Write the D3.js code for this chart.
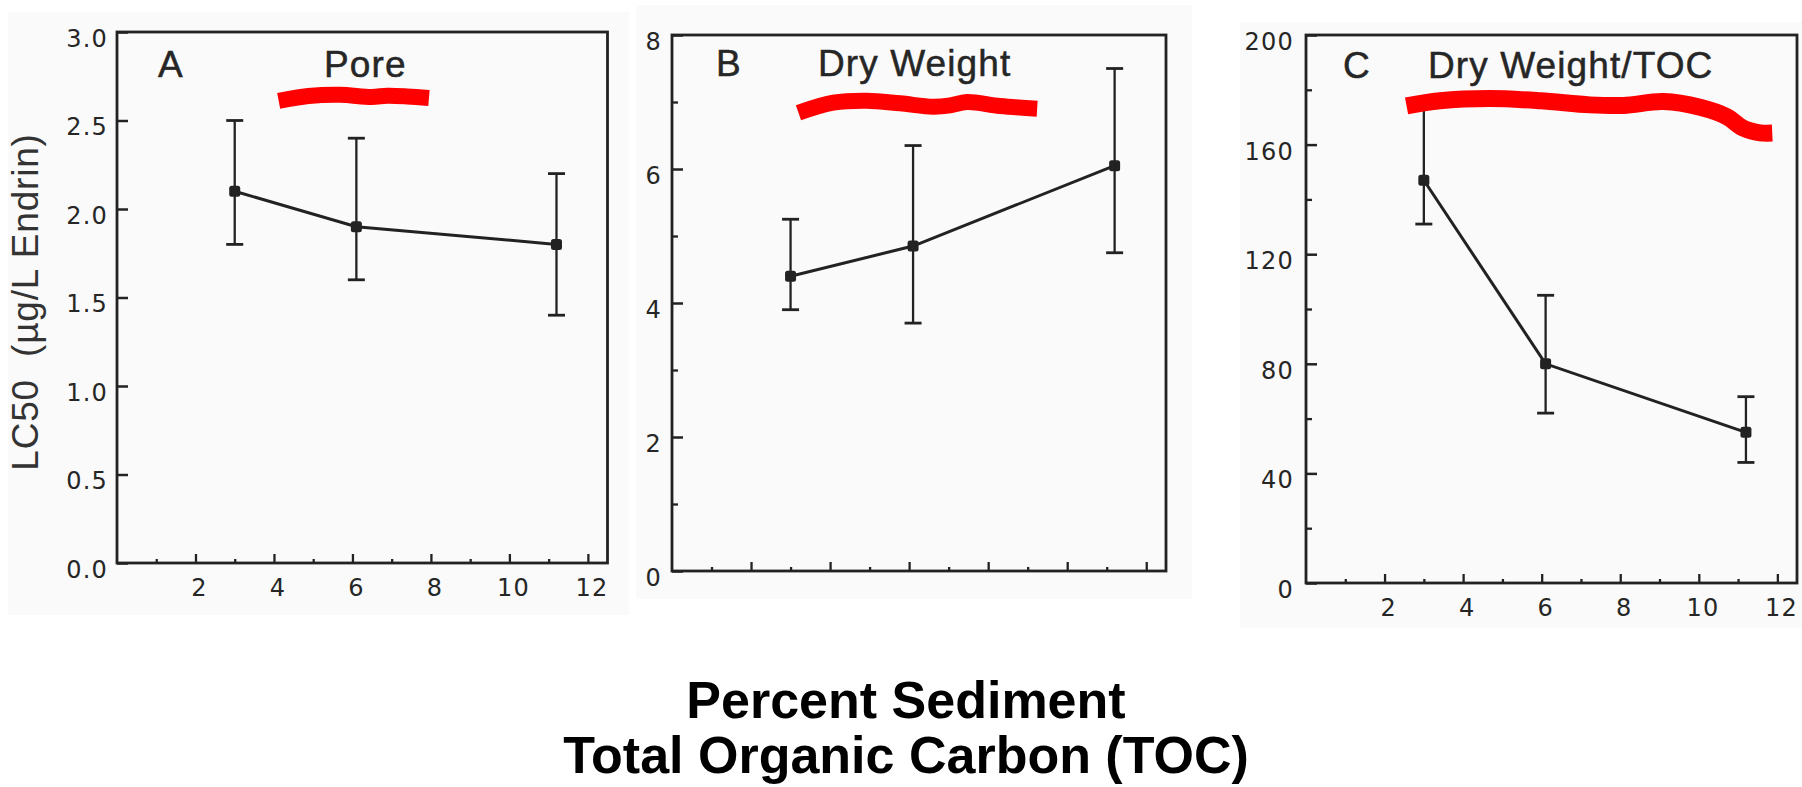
<!DOCTYPE html>
<html>
<head>
<meta charset="utf-8">
<script src="https://cdn.jsdelivr.net/npm/d3@7"></script>
<style>
  body { margin: 0; background: #ffffff; }
  svg { display: block; }
</style>
</head>
<body>
<svg id="chart" width="1802" height="787"></svg>
<script>
// ---------------- DATA ----------------
const tocPercent = [3.0, 6.1, 11.2];           // x: percent sediment TOC

const poreMean = [2.1, 1.9, 1.8];              // A: Pore (µg/L)
const poreLow  = [1.8, 1.6, 1.4];
const poreHigh = [2.5, 2.4, 2.2];

const dryMean = [4.4, 4.85, 6.05];             // B: Dry weight
const dryLow  = [3.9, 3.7, 4.75];
const dryHigh = [5.25, 6.35, 7.5];

const dwTocMean = [147, 80, 55];               // C: Dry weight / TOC
const dwTocLow  = [131, 62, 44];
const dwTocHigh = [174, 105, 68];

const xTickValues  = [2, 4, 6, 8, 10, 12];
const xMinorValues = [1, 3, 5, 7, 9, 11];

const poreTicks  = [0, 0.5, 1.0, 1.5, 2.0, 2.5, 3.0];
const poreMinor  = [];
const dryTicks   = [0, 2, 4, 6, 8];
const dryMinor   = [1, 3, 5, 7];
const dwTocTicks = [0, 40, 80, 120, 160, 200];
const dwTocMinor = [20, 60, 100, 140, 180];

const panelLetters = ["A", "B", "C"];
const panelTitles  = ["Pore", "Dry Weight", "Dry Weight/TOC"];
const yAxisTitle   = "LC50  (\u00b5g/L Endrin)";
const xAxisTitle   = ["Percent Sediment", "Total Organic Carbon (TOC)"];

// hand-drawn red highlight strokes, in each panel's data units [x, y]
const redStrokeA = [[4.12,2.611],[4.88,2.638],[5.68,2.645],[6.49,2.633],[6.89,2.640],[7.40,2.636],[7.95,2.627]];
const redStrokeB = [[3.20,6.84],[4.08,6.99],[4.92,7.02],[5.77,6.98],[6.61,6.93],[7.04,6.95],[7.46,7.00],[8.30,6.94],[9.24,6.90]];
const redStrokeC = [[2.56,174.1],[3.41,176.0],[4.68,176.8],[5.96,176.0],[7.23,174.5],[8.08,174.3],[9.10,175.7],[10.03,173.6],[10.71,170.2],[11.13,166.0],[11.56,164.3],[11.87,164.2]];

// ---------------- LAYOUT ----------------
const panels = [
  { letter: panelLetters[0], title: panelTitles[0],
    paper: [8, 12, 629, 615], frame: [117, 32, 607.5, 563],
    xDomain: [0, 12.5], yDomain: [0, 3],
    yTicks: poreTicks, yMinor: poreMinor, fmt: d3.format(".1f"),
    xLabels: true, mean: poreMean, low: poreLow, high: poreHigh, red: redStrokeA, redW: 16,
    letterX: 158, titleX: 324, baseY: 77, yPad: 9 },
  { letter: panelLetters[1], title: panelTitles[1],
    paper: [636, 5, 1192, 599], frame: [672, 35, 1166, 571],
    xDomain: [0, 12.5], yDomain: [0, 8],
    yTicks: dryTicks, yMinor: dryMinor, fmt: d3.format("d"),
    xLabels: false, mean: dryMean, low: dryLow, high: dryHigh, red: redStrokeB, redW: 16,
    letterX: 716, titleX: 818, baseY: 76, yPad: 10 },
  { letter: panelLetters[2], title: panelTitles[2],
    paper: [1240, 22, 1802, 628], frame: [1306, 35, 1797, 583],
    xDomain: [0, 12.5], yDomain: [0, 200],
    yTicks: dwTocTicks, yMinor: dwTocMinor, fmt: d3.format("d"),
    xLabels: true, mean: dwTocMean, low: dwTocLow, high: dwTocHigh, red: redStrokeC, redW: 17,
    letterX: 1343, titleX: 1428, baseY: 77.5, yPad: 12 }
];

const ink = "#222222";
const svg = d3.select("#chart");

panels.forEach(p => {
  const g = svg.append("g");
  const [fx0, fy0, fx1, fy1] = p.frame;

  // scanned paper background
  g.append("rect")
    .attr("x", p.paper[0]).attr("y", p.paper[1])
    .attr("width", p.paper[2] - p.paper[0]).attr("height", p.paper[3] - p.paper[1])
    .attr("fill", "#fafafa");

  const x = d3.scaleLinear().domain(p.xDomain).range([fx0, fx1]);
  const y = d3.scaleLinear().domain(p.yDomain).range([fy1, fy0]);

  // y axis major ticks + labels
  const ya = g.append("g").attr("transform", `translate(${fx0},0)`)
    .call(d3.axisLeft(y).tickValues(p.yTicks).tickSizeInner(-11).tickSizeOuter(0)
      .tickPadding(p.yPad).tickFormat(p.fmt));
  ya.select(".domain").remove();
  ya.selectAll(".tick line").attr("stroke", ink).attr("stroke-width", 2.5);
  ya.selectAll(".tick text")
    .attr("dy", "0.6em")
    .attr("fill", "#262626")
    .style("font-family", "'DejaVu Sans', 'Liberation Sans', sans-serif")
    .style("font-size", "24px")
    .style("letter-spacing", "1.2px");

  // y minor ticks
  if (p.yMinor.length) {
    const ym = g.append("g").attr("transform", `translate(${fx0},0)`)
      .call(d3.axisLeft(y).tickValues(p.yMinor).tickSizeInner(-6).tickSizeOuter(0).tickFormat(""));
    ym.select(".domain").remove();
    ym.selectAll(".tick line").attr("stroke", ink).attr("stroke-width", 2.3);
  }

  // x axis major ticks + labels
  const xa = g.append("g").attr("transform", `translate(0,${fy1})`)
    .call(d3.axisBottom(x).tickValues(xTickValues).tickSizeInner(-9).tickSizeOuter(0)
      .tickPadding(16).tickFormat(p.xLabels ? d3.format("d") : ""));
  xa.select(".domain").remove();
  xa.selectAll(".tick line").attr("stroke", ink).attr("stroke-width", 2.3);
  xa.selectAll(".tick text")
    .attr("fill", "#262626")
    .attr("dx", "0.15em")
    .style("font-family", "'DejaVu Sans', 'Liberation Sans', sans-serif")
    .style("font-size", "24px")
    .style("letter-spacing", "1.2px");

  // x minor ticks
  const xm = g.append("g").attr("transform", `translate(0,${fy1})`)
    .call(d3.axisBottom(x).tickValues(xMinorValues).tickSizeInner(-4).tickSizeOuter(0).tickFormat(""));
  xm.select(".domain").remove();
  xm.selectAll(".tick line").attr("stroke", ink).attr("stroke-width", 2.3);

  // frame
  g.append("rect")
    .attr("x", fx0).attr("y", fy0)
    .attr("width", fx1 - fx0).attr("height", fy1 - fy0)
    .attr("fill", "none").attr("stroke", ink).attr("stroke-width", 2.8);

  // panel letter and title
  const txt = (s, xx) => g.append("text")
    .attr("x", xx).attr("y", p.baseY).text(s)
    .attr("fill", "#262626")
    .attr("stroke", "#262626").attr("stroke-width", 0.5)
    .style("font-family", "'Liberation Sans', Arial, sans-serif")
    .style("font-size", "37px")
    .style("letter-spacing", "1.1px");
  txt(p.letter, p.letterX);
  txt(p.title, p.titleX);

  const pts = tocPercent.map((t, i) => ({ t, m: p.mean[i], lo: p.low[i], hi: p.high[i] }));

  // error bars
  const eb = g.append("g").attr("stroke", ink);
  eb.selectAll("line.v").data(pts).join("line").attr("class", "v")
    .attr("x1", d => x(d.t)).attr("x2", d => x(d.t))
    .attr("y1", d => y(d.lo)).attr("y2", d => y(d.hi))
    .attr("stroke-width", 2.3);
  ["lo", "hi"].forEach(k => {
    eb.selectAll("line.c" + k).data(pts).join("line").attr("class", "c" + k)
      .attr("x1", d => x(d.t) - 8.5).attr("x2", d => x(d.t) + 8.5)
      .attr("y1", d => y(d[k])).attr("y2", d => y(d[k]))
      .attr("stroke-width", 2.8);
  });

  // connecting line
  g.append("path").datum(pts)
    .attr("fill", "none").attr("stroke", ink).attr("stroke-width", 3)
    .attr("d", d3.line().x(d => x(d.t)).y(d => y(d.m)));

  // markers
  g.selectAll("rect.mk").data(pts).join("rect").attr("class", "mk")
    .attr("x", d => x(d.t) - 5.5).attr("y", d => y(d.m) - 5.5)
    .attr("width", 11).attr("height", 11).attr("rx", 2.5)
    .attr("fill", ink);

  // red highlight stroke
  g.append("path").datum(p.red)
    .attr("fill", "none").attr("stroke", "#ff0000")
    .attr("stroke-width", p.redW).attr("stroke-linecap", "butt")
    .attr("d", d3.line().curve(d3.curveCatmullRom).x(d => x(d[0])).y(d => y(d[1])));
});

// y axis title (panel A)
svg.append("text")
  .attr("transform", "translate(38,302) rotate(-90)")
  .attr("text-anchor", "middle")
  .attr("fill", "#333")
  .style("font-family", "'Liberation Sans', Arial, sans-serif")
  .style("font-size", "37px")
  .style("letter-spacing", "0.8px")
  .style("white-space", "pre")
  .text(yAxisTitle);

// shared x axis title
const xt = svg.append("text")
  .attr("text-anchor", "middle")
  .attr("fill", "#000")
  .style("font-family", "'Liberation Sans', Arial, sans-serif")
  .style("font-weight", "bold")
  .style("font-size", "52px");
xt.selectAll("tspan").data(xAxisTitle).join("tspan")
  .attr("x", 906)
  .attr("y", (d, i) => 718 + i * 55)
  .text(d => d);
</script>
</body>
</html>
